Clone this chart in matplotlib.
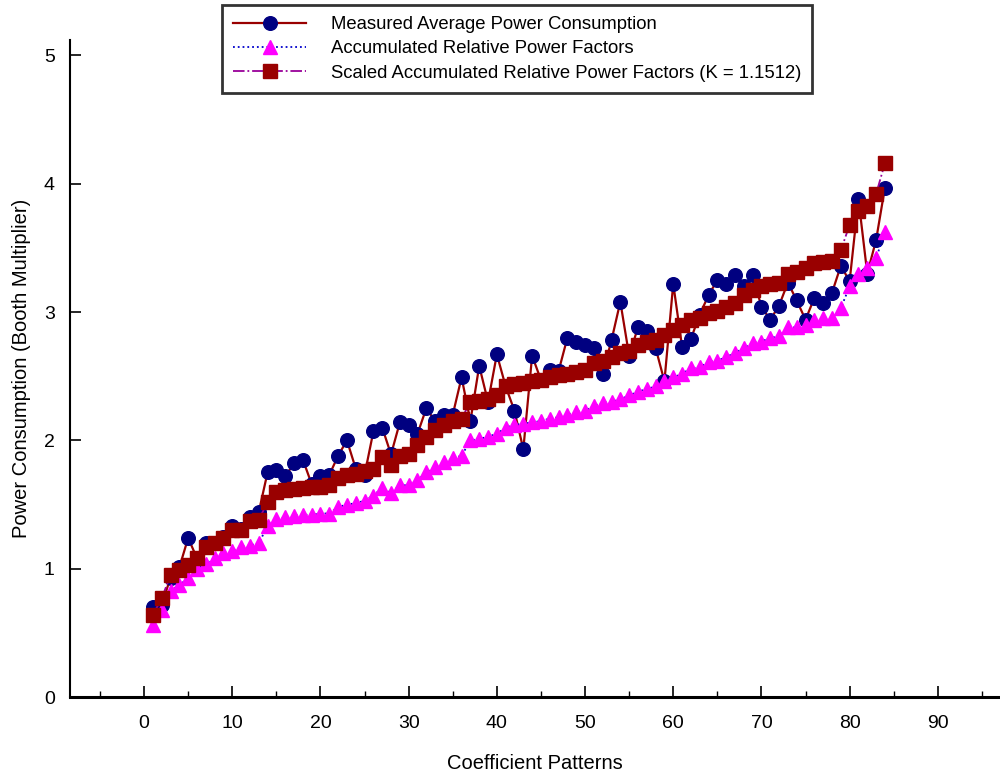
import matplotlib
matplotlib.use("Agg")
import matplotlib.pyplot as plt
from matplotlib.ticker import MultipleLocator

plt.rcParams['font.family'] = ['Liberation Sans', 'DejaVu Sans']

patterns = list(range(1, 85))

measured = [0.70, 0.72, 0.93, 1.01, 1.24, 1.08, 1.20, 1.20, 1.25, 1.33, 1.31, 1.40, 1.44, 1.75, 1.77, 1.72, 1.82,
            1.85, 1.66, 1.72, 1.73, 1.88, 2.00, 1.78, 1.73, 2.07, 2.10, 1.89, 2.14, 2.12, 2.05, 2.25, 2.15,
            2.20, 2.20, 2.49, 2.15, 2.58, 2.30, 2.67, 2.42, 2.23, 1.93, 2.66, 2.47, 2.55, 2.54, 2.80, 2.77, 2.74,
            2.72, 2.52, 2.78, 3.08, 2.66, 2.88, 2.85, 2.72, 2.46, 3.22, 2.73, 2.79, 2.98, 3.13, 3.25, 3.22, 3.29,
            3.20, 3.29, 3.04, 2.94, 3.05, 3.23, 3.09, 2.94, 3.11, 3.07, 3.15, 3.36, 3.24, 3.88, 3.30, 3.56, 3.97]

accumulated = [0.56, 0.68, 0.83, 0.87, 0.93, 1.00, 1.04, 1.08, 1.12, 1.14, 1.17, 1.18, 1.20, 1.33, 1.39, 1.40, 1.41,
               1.42, 1.42, 1.43, 1.43, 1.48, 1.50, 1.51, 1.53, 1.57, 1.63, 1.59, 1.65, 1.65, 1.69, 1.75, 1.79,
               1.83, 1.86, 1.88, 2.00, 2.01, 2.03, 2.05, 2.10, 2.12, 2.13, 2.14, 2.15, 2.17, 2.18, 2.20, 2.22, 2.23,
               2.27, 2.29, 2.30, 2.32, 2.35, 2.38, 2.40, 2.42, 2.46, 2.49, 2.52, 2.56, 2.57, 2.61, 2.62, 2.65, 2.68,
               2.72, 2.76, 2.77, 2.80, 2.81, 2.88, 2.88, 2.90, 2.94, 2.95, 2.95, 3.03, 3.20, 3.30, 3.34, 3.42, 3.62]

scaled = [0.64, 0.77, 0.95, 0.99, 1.03, 1.08, 1.17, 1.20, 1.24, 1.30, 1.30, 1.37, 1.38, 1.52, 1.60, 1.61, 1.62,
          1.63, 1.64, 1.64, 1.65, 1.71, 1.73, 1.74, 1.76, 1.78, 1.87, 1.81, 1.88, 1.89, 1.96, 2.03, 2.08,
          2.12, 2.15, 2.17, 2.30, 2.31, 2.32, 2.35, 2.42, 2.44, 2.45, 2.46, 2.47, 2.49, 2.51, 2.52, 2.53, 2.55,
          2.60, 2.62, 2.65, 2.68, 2.70, 2.74, 2.77, 2.78, 2.82, 2.86, 2.90, 2.94, 2.95, 2.99, 3.01, 3.04, 3.07,
          3.13, 3.17, 3.20, 3.22, 3.23, 3.30, 3.31, 3.34, 3.38, 3.39, 3.40, 3.48, 3.68, 3.79, 3.83, 3.92, 4.16]

labels = ["Measured Average Power Consumption",
          "Accumulated Relative Power Factors",
          "Scaled Accumulated Relative Power Factors (K = 1.1512)"]

fig = plt.figure(figsize=(10, 7.73), dpi=100)
ax = fig.add_axes([0.07, 0.0983, 0.93, 0.85])

ax.plot(patterns, measured, color='#990000', lw=1.6, marker='o', ms=9.8,
        markerfacecolor='#000080', markeredgecolor='#000080', zorder=2, label=labels[0])
ax.plot(patterns, accumulated, color='#0000CC', lw=1.3, ls=':', marker='^', ms=9.5,
        markerfacecolor='#FF00FF', markeredgecolor='#FF00FF', zorder=3, label=labels[1])
ax.plot(patterns, scaled, color='#990099', lw=1.3, ls='-.', marker='s', ms=9.5,
        markerfacecolor='#990000', markeredgecolor='#990000', zorder=4, label=labels[2])

ax.set_xlim(-8.4, 97.05)
ax.set_ylim(0, 5.12)
ax.xaxis.set_major_locator(MultipleLocator(10))
ax.xaxis.set_minor_locator(MultipleLocator(5))
ax.yaxis.set_major_locator(MultipleLocator(1))
ax.tick_params(axis='x', which='major', direction='in', length=8, width=1.2, pad=13, labelsize=14)
ax.tick_params(axis='x', which='minor', direction='in', length=4, width=1.0)
ax.tick_params(axis='y', which='major', direction='in', length=8, width=1.2, pad=11, labelsize=14)

for s in ['top', 'right']:
    ax.spines[s].set_visible(False)
ax.spines['bottom'].set_linewidth(2.2)
ax.spines['left'].set_linewidth(1.5)

ax.set_xlabel("Coefficient Patterns", fontsize=14.5, labelpad=16)
ax.set_ylabel("Power Consumption (Booth Multiplier)", fontsize=14.5, labelpad=9)

leg = fig.legend(loc='upper left', bbox_to_anchor=(0.222, 0.9935), fontsize=13.3,
                 frameon=True, fancybox=False, handlelength=3.95, handletextpad=1.35,
                 borderpad=0.6, labelspacing=0.4, borderaxespad=0, edgecolor='black')
leg.get_frame().set_linewidth(2.0)

fig.savefig("out.png", dpi=100)
